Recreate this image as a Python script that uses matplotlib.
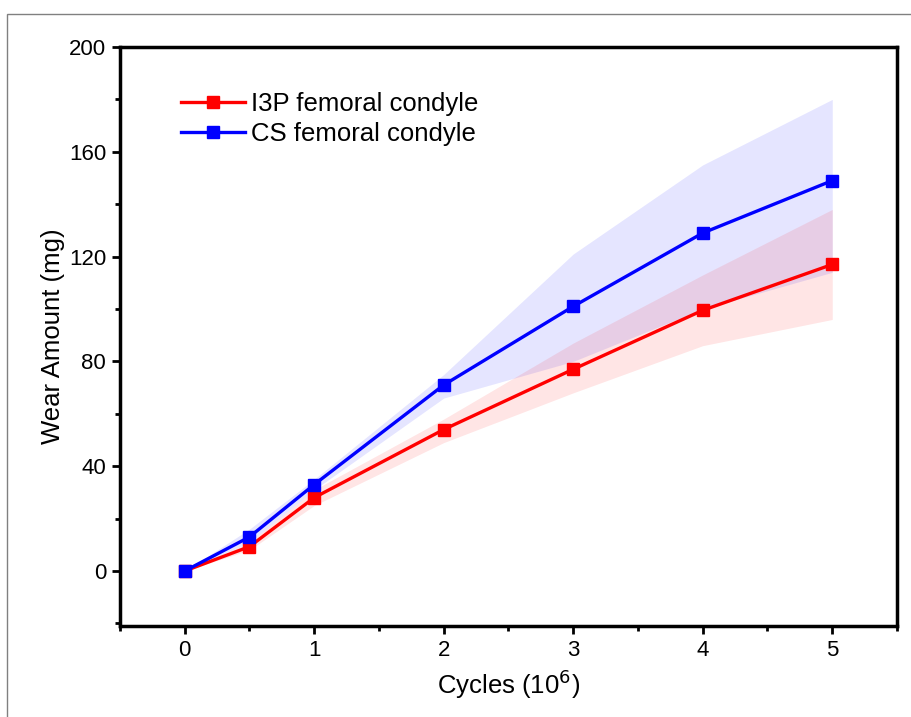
import matplotlib
matplotlib.use("Agg")
import matplotlib.pyplot as plt
from matplotlib.patches import Rectangle
from matplotlib.ticker import MultipleLocator

plt.rcParams['font.family'] = ['Liberation Sans', 'DejaVu Sans']

cycles = [0, 0.5, 1, 2, 3, 4, 5]
i3p_mean = [0, 9.3, 28, 54, 77, 99.5, 117]
i3p_upper = [0, 11, 31, 58, 87, 113, 138]
i3p_lower = [0, 8, 25, 49, 68, 86, 96]
cs_mean = [0, 13, 33, 71, 101, 129, 149]
cs_upper = [0, 16, 35, 75, 121, 155, 180]
cs_lower = [0, 11, 31, 66, 80, 100, 114]

labels = ["I3P femoral condyle", "CS femoral condyle"]

fig = plt.figure(figsize=(9.12, 7.17), dpi=100)
ax = fig.add_axes([120/912, 1-626/717, (897-120)/912, (626-47)/717])

ax.fill_between(cycles, cs_lower, cs_upper, color='blue', alpha=0.1, linewidth=0)
ax.fill_between(cycles, i3p_lower, i3p_upper, color='red', alpha=0.1, linewidth=0)
ax.plot(cycles, i3p_mean, color='red', lw=2.4, marker='s', ms=8, label=labels[0])
ax.plot(cycles, cs_mean, color='blue', lw=2.4, marker='s', ms=8, label=labels[1])

ax.set_xlim(-0.5, 5.5)
ax.set_ylim(-21, 200)
ax.xaxis.set_major_locator(MultipleLocator(1))
ax.xaxis.set_minor_locator(MultipleLocator(0.5))
ax.set_yticks([0, 40, 80, 120, 160, 200])
ax.yaxis.set_minor_locator(MultipleLocator(20))
for s in ax.spines.values():
    s.set_linewidth(2.5)
ax.tick_params(which='major', direction='out', length=6, width=2, labelsize=16, pad=4)
ax.tick_params(which='minor', direction='out', length=3.5, width=2)

ax.set_xlabel("Cycles (10$^{6}$)", fontsize=18.5, labelpad=5)
ax.set_ylabel("Wear Amount (mg)", fontsize=18.5, labelpad=3)

leg = ax.legend(loc='upper left', bbox_to_anchor=(0.065, 0.94), frameon=False,
                fontsize=18.5, handlelength=2.5, handletextpad=0.25, labelspacing=0.25,
                borderaxespad=0)

fig.patches.append(Rectangle((7/912, -0.1), 2, 1.1 - 14/717, transform=fig.transFigure,
                             fill=False, edgecolor='#808080', linewidth=1))

fig.savefig("out.png", dpi=100)
